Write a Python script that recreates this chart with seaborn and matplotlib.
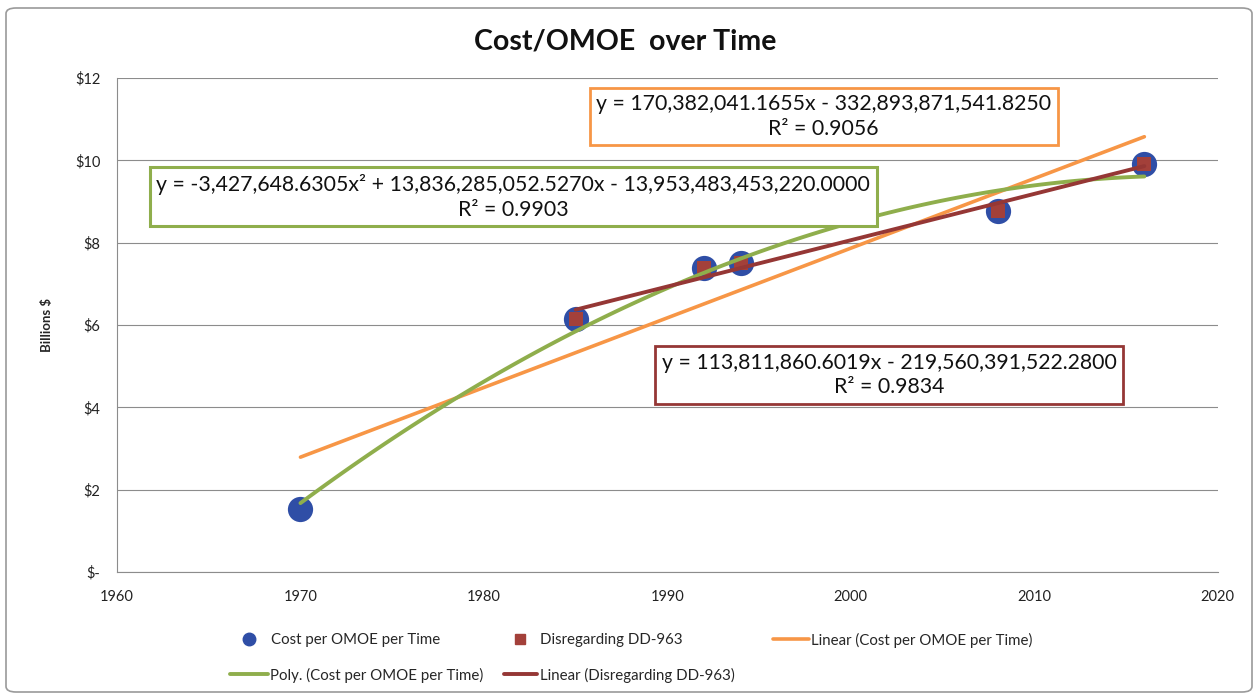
import matplotlib
matplotlib.use("Agg")
import matplotlib.pyplot as plt
import seaborn as sns
from matplotlib.lines import Line2D
from matplotlib.patches import FancyBboxPatch
from matplotlib.ticker import FuncFormatter

# data (billions of dollars)
years_all = [1970, 1985, 1992, 1994, 2008, 2016]
cost_all = [1.54, 6.16, 7.39, 7.51, 8.77, 9.92]
years_no963 = [1985, 1992, 1994, 2008, 2016]
cost_no963 = [6.16, 7.39, 7.51, 8.77, 9.92]

eq_linear = "y = 170,382,041.1655x - 332,893,871,541.8250\nR² = 0.9056"
eq_poly = "y = -3,427,648.6305x² + 13,836,285,052.5270x - 13,953,483,453,220.0000\nR² = 0.9903"
eq_no963 = "y = 113,811,860.6019x - 219,560,391,522.2800\nR² = 0.9834"

BLUE = "#2f4ea6"
RED = "#a3403a"
ORANGE = "#f79646"
GREEN = "#8fae4c"
DARKRED = "#953735"
GRID = "#8c8c8c"

sns.set_style("white")
plt.rcParams['font.family'] = ['Lato', 'DejaVu Sans']

fig = plt.figure(figsize=(12.58, 6.98), dpi=100)
ax = fig.add_axes([0.093, 0.1805, 0.875, 0.7075])

sns.scatterplot(x=years_all, y=cost_all, ax=ax, color=BLUE, s=330, marker='o',
                edgecolor=BLUE, linewidth=0, zorder=3)
sns.scatterplot(x=years_no963, y=cost_no963, ax=ax, color=RED, s=110, marker='s',
                edgecolor=RED, linewidth=0, zorder=4)
sns.regplot(x=years_all, y=cost_all, ax=ax, order=1, scatter=False, ci=None,
            color=ORANGE, line_kws=dict(lw=2.6, zorder=5))
sns.regplot(x=years_all, y=cost_all, ax=ax, order=2, scatter=False, ci=None,
            color=GREEN, line_kws=dict(lw=2.8, zorder=6))
sns.regplot(x=years_no963, y=cost_no963, ax=ax, order=1, scatter=False, ci=None,
            color=DARKRED, line_kws=dict(lw=2.8, zorder=7))

ax.set_xlim(1960, 2020)
ax.set_ylim(0, 12)
ax.set_xticks(range(1960, 2021, 10))
ax.set_yticks(range(0, 13, 2))
ax.yaxis.set_major_formatter(FuncFormatter(lambda v, p: "$-" if v == 0 else f"${v:.0f}"))
ax.grid(axis='y', color=GRID, lw=0.8)
ax.grid(axis='x', visible=False)
ax.set_axisbelow(True)
for side in ['top', 'right']:
    ax.spines[side].set_visible(False)
for side in ['left', 'bottom']:
    ax.spines[side].set_color(GRID)
    ax.spines[side].set_linewidth(0.8)
ax.tick_params(axis='both', direction='out', length=4, color=GRID, labelsize=10.5,
               labelcolor='#222222')
ax.tick_params(axis='x', pad=9)
ax.tick_params(axis='y', pad=8)
ax.set_xlabel("")
ax.set_ylabel("Billions $", fontsize=9.5, fontweight='bold', labelpad=16)

fig.text(0.497, 0.94, "Cost/OMOE  over Time", ha='center', va='center',
         fontsize=20.5, fontweight='bold', color='#111111')

# trendline equation boxes
box_kw = dict(ha='center', va='center', fontsize=15.3, linespacing=1.3,
              transform=ax.transAxes, zorder=10, color='#111111')
ax.text(0.642, 0.922, eq_linear,
        bbox=dict(boxstyle='square,pad=0.3', fc='white', ec=ORANGE, lw=2), **box_kw)
ax.text(0.36, 0.760, eq_poly,
        bbox=dict(boxstyle='square,pad=0.3', fc='white', ec=GREEN, lw=2.2), **box_kw)
ax.text(0.7016, 0.399, eq_no963,
        bbox=dict(boxstyle='square,pad=0.3', fc='white', ec=DARKRED, lw=2), **box_kw)

# legend, laid out like the spreadsheet one
W, H = 1258.0, 698.0
entries = [
    (Line2D([], [], ls='', marker='o', ms=9, color=BLUE), "Cost per OMOE per Time", 243, 640, 0.8, 1.07),
    (Line2D([], [], ls='', marker='s', ms=7.5, color=RED), "Disregarding DD-963", 514, 640, 0.8, 0.93),
    (Line2D([], [], color=ORANGE, lw=2.6), "Linear (Cost per OMOE per Time)", 773, 640, 2.4, 0.13),
    (Line2D([], [], color=GREEN, lw=2.8), "Poly. (Cost per OMOE per Time)", 230, 675, 2.5, 0.2),
    (Line2D([], [], color=DARKRED, lw=2.8), "Linear (Disregarding DD-963)", 504, 675, 2.2, 0.2),
]
for handle, label, px, py, hl, tp in entries:
    fig.legend(handles=[handle], labels=[label], loc='center left',
               bbox_to_anchor=(px / W, 1 - py / H), frameon=False, fontsize=10.8,
               handlelength=hl, handletextpad=tp, borderpad=0, borderaxespad=0)

# chart frame
fig.patches.append(FancyBboxPatch((6 / W, 6 / H), 1 - 12 / W, 1 - 14 / H,
                                  boxstyle='round,pad=0,rounding_size=0.008',
                                  transform=fig.transFigure, fc='none', ec='#9a9a9a', lw=1.2))

fig.savefig("out.png", dpi=100)
